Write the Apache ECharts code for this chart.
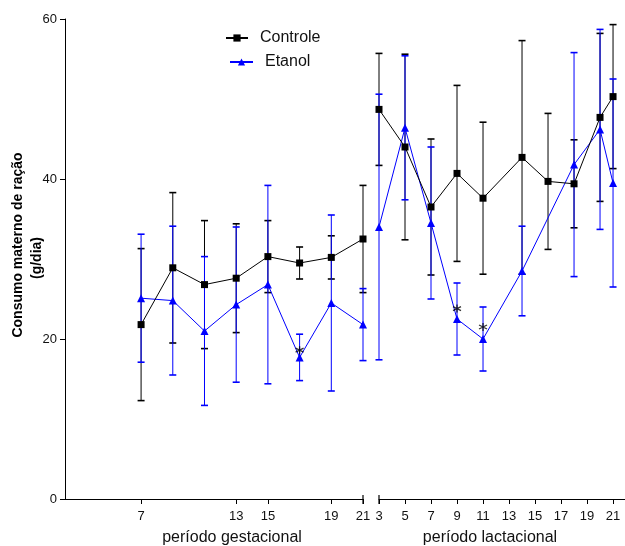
<!DOCTYPE html>
<html><head><meta charset="utf-8">
<script src="https://cdn.jsdelivr.net/npm/echarts@6/dist/echarts.min.js"></script>
<style>html,body{margin:0;padding:0;background:#fff}#c{width:625px;height:546px}</style>
</head><body><div id="c"></div>
<script>
// ---- data ----
const yTicks = [0, 20, 40, 60];
const gestTickLabels = [7, 13, 15, 19, 21];
const lactTickLabels = [3, 5, 7, 9, 11, 13, 15, 17, 19, 21];

const gestDays = [7, 9, 11, 13, 15, 17, 19, 21];
const gestControlMean = [21.8, 28.9, 26.8, 27.6, 30.3, 29.5, 30.2, 32.5];
const gestControlSD   = [9.5, 9.4, 8.0, 6.8, 4.5, 2.0, 2.7, 6.7];
const gestEtanolMean  = [25.1, 24.8, 21.0, 24.3, 26.8, 17.7, 24.5, 21.8];
const gestEtanolSD    = [8.0, 9.3, 9.3, 9.7, 12.4, 2.9, 11.0, 4.5];

const lactControlDays = [3, 5, 7, 9, 11, 14, 16, 18, 20, 21];
const lactControlMean = [48.7, 44.0, 36.5, 40.7, 37.6, 42.7, 39.7, 39.4, 47.7, 50.3];
const lactControlSD   = [7.0, 11.6, 8.5, 11.0, 9.5, 14.6, 8.5, 5.5, 10.5, 9.0];
const lactEtanolDays  = [3, 5, 7, 9, 11, 14, 18, 20, 21];
const lactEtanolMean  = [34.0, 46.4, 34.5, 22.5, 20.0, 28.5, 41.8, 46.2, 39.5];
const lactEtanolSD    = [16.6, 9.0, 9.5, 4.5, 4.0, 5.6, 14.0, 12.5, 13.0];

const gestAsterisks = [[17, 18.6]];
const lactAsterisks = [[9, 23.8], [11, 21.5]];

// ---- helpers ----
const BLACK = '#000000', BLUE = '#0000ff';
function pts(days, vals) { return days.map((d, i) => [d, vals[i]]); }
function bars(days, mean, sd) { return days.map((d, i) => [d, mean[i] - sd[i], mean[i] + sd[i]]); }
function errRender(color) {
  return function (params, api) {
    const x = api.value(0);
    const lo = api.coord([x, api.value(1)]);
    const hi = api.coord([x, api.value(2)]);
    const hw = 3.5;
    const s = { stroke: color, lineWidth: 1 };
    const c = { stroke: color, lineWidth: 1.6 };
    return { type: 'group', children: [
      { type: 'line', shape: { x1: lo[0], y1: lo[1], x2: hi[0], y2: hi[1] }, style: s },
      { type: 'line', shape: { x1: hi[0] - hw, y1: hi[1], x2: hi[0] + hw, y2: hi[1] }, style: c },
      { type: 'line', shape: { x1: lo[0] - hw, y1: lo[1], x2: lo[0] + hw, y2: lo[1] }, style: c }
    ]};
  };
}
function breakRender(params, api) {
  const p = api.coord([api.value(0), 0]);
  return { type: 'line', shape: { x1: p[0], y1: p[1] - 4, x2: p[0], y2: p[1] + 5 }, style: { stroke: '#000', lineWidth: 1.2 } };
}
const asteriskPath = 'path://M0,-10L0,10M-8.66,-5L8.66,5M-8.66,5L8.66,-5';

function xAxisCfg(grid, min, max, ticks) {
  return {
    gridIndex: grid, type: 'value', min: min, max: max,
    axisLine: { show: true, onZero: false, lineStyle: { color: '#000', width: 1 } },
    axisTick: { show: true, customValues: ticks, length: 5, lineStyle: { color: '#000' } },
    axisLabel: { customValues: ticks, fontSize: 13, color: '#111', margin: 11, fontFamily: 'Liberation Sans, Arial, sans-serif' },
    splitLine: { show: false }
  };
}

const series = [];
function addGroup(grid, cDays, cMean, cSD, eDays, eMean, eSD) {
  series.push({ type: 'custom', xAxisIndex: grid, yAxisIndex: grid, renderItem: errRender(BLACK),
    data: bars(cDays, cMean, cSD), encode: { x: 0, y: [1, 2] }, z: 2, silent: true });
  series.push({ type: 'custom', xAxisIndex: grid, yAxisIndex: grid, renderItem: errRender(BLUE),
    data: bars(eDays, eMean, eSD), encode: { x: 0, y: [1, 2] }, z: 2, silent: true });
  series.push({ name: 'Etanol', type: 'line', xAxisIndex: grid, yAxisIndex: grid, data: pts(eDays, eMean),
    symbol: 'triangle', symbolSize: 8, clip: false, z: 3,
    lineStyle: { color: BLUE, width: 1 }, itemStyle: { color: BLUE } });
  series.push({ name: 'Controle', type: 'line', xAxisIndex: grid, yAxisIndex: grid, data: pts(cDays, cMean),
    symbol: 'rect', symbolSize: 7, clip: false, z: 4,
    lineStyle: { color: BLACK, width: 1 }, itemStyle: { color: BLACK } });
}
addGroup(0, gestDays, gestControlMean, gestControlSD, gestDays, gestEtanolMean, gestEtanolSD);
addGroup(1, lactControlDays, lactControlMean, lactControlSD, lactEtanolDays, lactEtanolMean, lactEtanolSD);
series.push({ type: 'custom', xAxisIndex: 0, yAxisIndex: 0, renderItem: breakRender, data: [[21]], z: 5, silent: true });
series.push({ type: 'custom', xAxisIndex: 1, yAxisIndex: 1, renderItem: breakRender, data: [[3]], z: 5, silent: true });
[[0, gestAsterisks], [1, lactAsterisks]].forEach(([g, d]) => {
  series.push({ type: 'scatter', xAxisIndex: g, yAxisIndex: g, data: d, symbol: asteriskPath, symbolSize: 8,
    itemStyle: { color: 'none', borderColor: '#000', borderWidth: 1.3 }, z: 6, silent: true });
});

const legendText = { fontSize: 16, color: '#111', fontFamily: 'Liberation Sans, Arial, sans-serif', padding: [0, 0, 0, 7] };
const option = {
  animation: false,
  backgroundColor: '#fff',
  grid: [
    { left: 65, top: 19, width: 298, height: 480 },
    { left: 379, top: 19, width: 246, height: 480 }
  ],
  xAxis: [
    xAxisCfg(0, 2.2, 21, gestTickLabels),
    xAxisCfg(1, 3, 21.92, lactTickLabels)
  ],
  yAxis: [
    { gridIndex: 0, type: 'value', min: yTicks[0], max: yTicks[yTicks.length - 1], interval: 20,
      axisLine: { show: true, lineStyle: { color: '#000', width: 1 } },
      axisTick: { show: true, length: 5, lineStyle: { color: '#000' } },
      axisLabel: { fontSize: 13, color: '#111', margin: 8, fontFamily: 'Liberation Sans, Arial, sans-serif' },
      splitLine: { show: false } },
    { gridIndex: 1, type: 'value', min: yTicks[0], max: yTicks[yTicks.length - 1], show: false, splitLine: { show: false } }
  ],
  legend: [
    { data: ['Controle'], left: 220, top: 25, itemWidth: 22, itemHeight: 9, textStyle: legendText },
    { data: ['Etanol'], left: 224, top: 49, itemWidth: 23, itemHeight: 9, textStyle: legendText }
  ],
  graphic: [
    { type: 'text', x: 18, y: 245, rotation: Math.PI / 2,
      style: { text: 'Consumo materno de ração', font: 'bold 14px "Liberation Sans", Arial, sans-serif', fill: '#000', align: 'center', verticalAlign: 'middle' } },
    { type: 'text', x: 37, y: 258, rotation: Math.PI / 2,
      style: { text: '(g/dia)', font: 'bold 14px "Liberation Sans", Arial, sans-serif', fill: '#000', align: 'center', verticalAlign: 'middle' } },
    { type: 'text', x: 232, y: 538,
      style: { text: 'período gestacional', font: '16px "Liberation Sans", Arial, sans-serif', fill: '#111', align: 'center', verticalAlign: 'middle' } },
    { type: 'text', x: 490, y: 538,
      style: { text: 'período lactacional', font: '16px "Liberation Sans", Arial, sans-serif', fill: '#111', align: 'center', verticalAlign: 'middle' } }
  ],
  series: series
};
const chart = echarts.init(document.getElementById('c'), null, { renderer: 'canvas' });
chart.setOption(option);
</script>
</body></html>
